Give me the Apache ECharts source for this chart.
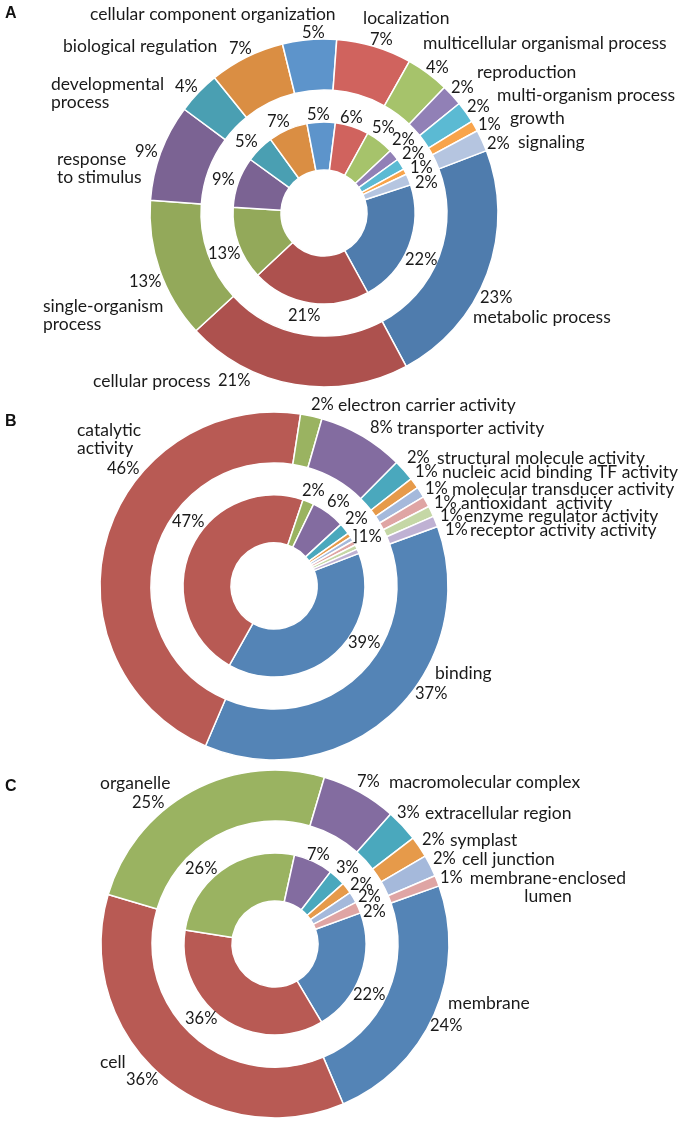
<!DOCTYPE html>
<html><head><meta charset="utf-8">
<script src="https://cdn.jsdelivr.net/npm/echarts@6/dist/echarts.min.js"></script>
<style>html,body{margin:0;padding:0;background:#fff}#c{width:680px;height:1124px}</style>
</head><body><div id="c"></div>
<script>
// ---------------- DATA ----------------
const A_NAMES = ['metabolic process','cellular process','single-organism\nprocess','response\nto stimulus','developmental\nprocess','biological regulation','cellular component organization','localization','multicellular organismal process','reproduction','multi-organism process','growth','signaling'];
const A_OUTER = [23,21,13,9,4,7,5,7,4,2,2,1,2];
const A_INNER = [22,21,13,9,5,7,5,6,5,2,2,1,2];

const B_NAMES = ['binding','catalytic\nactivity','electron carrier activity','transporter activity','structural molecule activity','nucleic acid binding TF activity','molecular transducer activity','antioxidant  activity','enzyme regulator activity','receptor activity activity'];
const B_OUTER = [37,46,2,8,2,1,1,1,1,1];
const B_INNER = [39,47,2,6,2,0.8,0.8,0.8,0.8,0.8];

const C_NAMES = ['membrane','cell','organelle','macromolecular complex','extracellular region','symplast','cell junction','membrane-enclosed\nlumen'];
const C_OUTER = [24,36,25,7,3,2,2,1];
const C_INNER = [22,36,26,7,3,2,2,2];

const PANELS = ['A','B','C'];

// ---------------- STYLE / LAYOUT ----------------
const A_COLORS = ['#4F7CAD','#AD514E','#93A95A','#7B6393','#4A9FB2','#DA8E43','#5D94CB','#D0635E','#A6C36B','#9180B6','#5BBAD3','#F8A44B','#B5C5E0'];
const B_COLORS = ['#5484B6','#B85A54','#9AB361','#836CA0','#4AA8BD','#E69A4A','#A5B9DB','#DFA5A4','#C5D7A6','#BFB1D3'];
const C_COLORS = ['#5484B6','#B85A54','#9AB361','#836CA0','#4AA8BD','#E69A4A','#A5B9DB','#DFA5A4'];

const FONT = 'Lato';
const NAME_FS = 17.5, PCT_FS = 16.5, LH = 18;
const R_INNER = [43, 91], R_OUTER = [123, 174];

const GEOM = {
  A: {center: [324, 213], startOuter: 21, startInner: 18},
  B: {center: [274, 586], startOuter: 20, startInner: 21},
  C: {center: [275, 944], startOuter: 19.5, startInner: 20}
};

// label anchors: [x(left edge), y(center), align]
const A_OUT_PCT_POS = [[480,298],[218,381],[129,282],[135,152],[175,87],[229,49],[302,33],[370,40],[426,68],[451,88],[467,107],[478,125],[487,144]];
const A_OUT_NAME_POS = [[473,317],[93,381],[43,315],[57,168],[51,93],[63,46],[90,14],[363,18],[423,43],[477,72],[497,95],[510,118],[518,142]];
const A_IN_POS = [[405,260],[288,316],[208,254],[212,180],[235,142],[267,122],[307,115],[340,118],[372,128],[392,140],[402,154],[410,168],[415,183]];

const B_OUT_PCT_POS = [[415,694],[107,469],[311,405],[370,428],[407,458],[415,472],[425,489],[434,503],[440,516],[445,530]];
const B_OUT_NAME_POS = [[435,673],[77,439],[338,405],[397,428],[437,458],[442,472],[452,489],[461,503],[464,516],[470,530]];
const B_IN_POS = [[348,643],[172,522],[302,491],[327,502],[345,519],[352,537],null,null,null,null];
const B_IN_BRACKET = 5;

const C_OUT_PCT_POS = [[430,1026],[126,1080],[132,803],[357,782],[397,813],[422,840],[433,859],[440,878]];
const C_OUT_NAME_POS = [[448,1003],[100,1062],[100,783],[389,782],[425,813],[450,840],[462,859],[548,887,'center']];
const C_IN_POS = [[353,995],[185,1019],[185,869],[307,855],[336,868],[350,885],[358,897],[363,912]];

const PANEL_POS = [[5,6],[5,414],[5,779]];

// ---------------- BUILD ----------------
const pct = v => Math.round(v) + '%';

function ring(names, values, colors, center, radius, startAngle, pos, textOf, opt) {
  opt = opt || {};
  return {
    type: 'pie', center: center, radius: radius, startAngle: startAngle, clockwise: true,
    avoidLabelOverlap: false, silent: true, animation: false, z: opt.z || 2,
    itemStyle: opt.hidden ? {color: 'rgba(0,0,0,0)', borderWidth: 0}
                          : {borderColor: '#ffffff', borderWidth: 1.5},
    label: {show: true, position: 'outside', color: '#1a1a1a', fontFamily: FONT,
            fontSize: opt.fs || PCT_FS, lineHeight: opt.lh || LH,
            rich: {br: {fontFamily: 'DejaVu Sans', fontSize: 15, color: '#1a1a1a', padding: [0, 1, 0, 0]}}},
    labelLine: {show: false},
    labelLayout: function (p) {
      const q = pos[p.dataIndex];
      if (!q) return {};
      return {x: q[0], y: q[1], align: q[2] || 'left', verticalAlign: 'middle'};
    },
    data: values.map(function (v, i) {
      const item = {value: v, name: names[i], label: {show: !!pos[i], formatter: textOf(i, v)}};
      if (!opt.hidden) item.itemStyle = {color: colors[i]};
      return item;
    })
  };
}

function panel(names, outer, inner, colors, g, outPct, outName, inPos, bracketIdx) {
  return [
    ring(names, inner, colors, g.center, R_INNER, g.startInner, inPos,
         function (i, v) { return (i === bracketIdx ? '{br|]}' : '') + pct(v); }),
    ring(names, outer, colors, g.center, R_OUTER, g.startOuter, outPct,
         function (i, v) { return pct(v); }),
    ring(names, outer, colors, g.center, R_OUTER, g.startOuter, outName,
         function (i) { return names[i]; }, {hidden: true, fs: NAME_FS, z: 1})
  ];
}

const series = [].concat(
  panel(A_NAMES, A_OUTER, A_INNER, A_COLORS, GEOM.A, A_OUT_PCT_POS, A_OUT_NAME_POS, A_IN_POS, -1),
  panel(B_NAMES, B_OUTER, B_INNER, B_COLORS, GEOM.B, B_OUT_PCT_POS, B_OUT_NAME_POS, B_IN_POS, B_IN_BRACKET),
  panel(C_NAMES, C_OUTER, C_INNER, C_COLORS, GEOM.C, C_OUT_PCT_POS, C_OUT_NAME_POS, C_IN_POS, -1)
);

const chart = echarts.init(document.getElementById('c'), null, {renderer: 'canvas'});
chart.setOption({
  backgroundColor: '#ffffff',
  animation: false,
  title: PANELS.map(function (t, i) {
    return {text: t, left: PANEL_POS[i][0], top: PANEL_POS[i][1], padding: 0,
            textStyle: {fontFamily: 'Liberation Sans', fontWeight: 'bold', fontSize: 16, color: '#111'}};
  }),
  series: series
});
</script>
</body></html>
